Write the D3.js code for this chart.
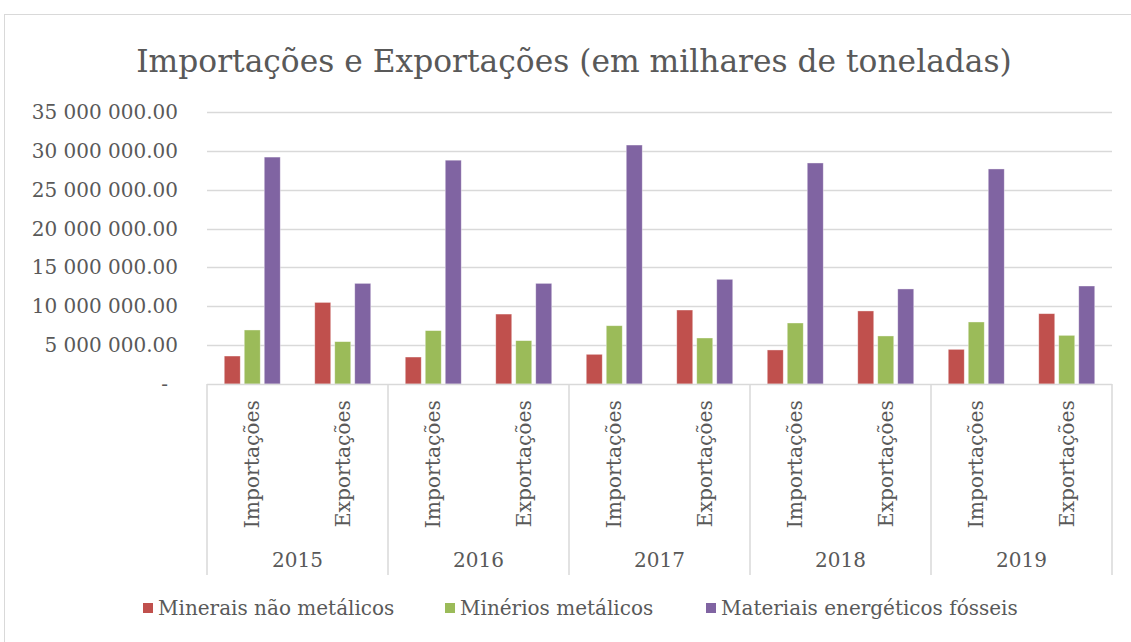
<!DOCTYPE html>
<html>
<head>
<meta charset="utf-8">
<script src="https://cdn.jsdelivr.net/npm/d3@7"></script>
<style>
  body { margin: 0; background: #fff; }
  svg text { font-family: "DejaVu Serif", "Liberation Serif", serif; fill: #595959; }
</style>
</head>
<body>
<div id="vis"></div>
<script>
// data
const years = ["2015", "2016", "2017", "2018", "2019"]
const flows = ["Importações", "Exportações"]
const series = ["Minerais não metálicos", "Minérios metálicos", "Materiais energéticos fósseis"]
const colors = ["#C0504D", "#9BBB59", "#8064A2"]

// one row per year+flow, order: 2015 imp, 2015 exp, 2016 imp, ...
const minerais = [3600000, 10500000, 3470000, 9000000, 3820000, 9520000, 4380000, 9400000, 4460000, 9050000]
const minerios = [6950000, 5450000, 6870000, 5580000, 7500000, 5920000, 7850000, 6180000, 7980000, 6260000]
const fosseis  = [29200000, 12950000, 28800000, 12950000, 30750000, 13470000, 28440000, 12230000, 27670000, 12610000]
const yTicks = [0, 5e6, 10e6, 15e6, 20e6, 25e6, 30e6, 35e6]

const cats = []
years.forEach(y => flows.forEach(f => cats.push({year: y, flow: f, key: y + "-" + f})))
cats.forEach((c, i) => c.values = [minerais[i], minerios[i], fosseis[i]])

const width = 1131, height = 642
const plot = {left: 207, right: 1112, top: 112, bottom: 384}

let svg = d3.select("#vis").append("svg")
    .attr("width", width)
    .attr("height", height)

// chart border
svg.append("rect")
    .attr("x", 4.5).attr("y", 14.5)
    .attr("width", 1140).attr("height", 660)
    .attr("fill", "none")
    .attr("stroke", "#d9d9d9")

svg.append("text")
    .attr("x", 574)
    .attr("y", 72)
    .attr("text-anchor", "middle")
    .attr("font-size", 31.3)
    .text("Importações e Exportações (em milhares de toneladas)")

let y = d3.scaleLinear().domain([0, 35e6]).range([plot.bottom, plot.top])
let x0 = d3.scaleBand().domain(cats.map(c => c.key)).range([plot.left, plot.right])
let x1 = d3.scaleBand().domain(d3.range(3)).range([0, x0.bandwidth()])
    .paddingInner(0.2).paddingOuter(0.8625)
let xYear = d3.scaleBand().domain(years).range([plot.left, plot.right])

const loc = d3.formatLocale({decimal: ".", thousands: " ", grouping: [3], currency: ["", ""]})
const fmt = loc.format(",.2f")

// grid
svg.append("g")
    .selectAll("line")
    .data(yTicks.slice(1))
    .join("line")
    .attr("x1", plot.left).attr("x2", plot.right)
    .attr("y1", d => Math.round(y(d)) + 0.5).attr("y2", d => Math.round(y(d)) + 0.5)
    .attr("stroke", "#d9d9d9")
    .attr("stroke-width", 1.5)

// y labels
svg.append("g")
    .attr("font-size", 20)
    .selectAll("text")
    .data(yTicks)
    .join("text")
    .attr("x", d => d == 0 ? 168 : 178)
    .attr("y", d => y(d))
    .attr("dy", "0.35em")
    .attr("text-anchor", "end")
    .text(d => d == 0 ? "-" : fmt(d))

// bars
let groups = svg.append("g")
    .selectAll("g")
    .data(cats)
    .join("g")
    .attr("transform", d => `translate(${x0(d.key)},0)`)

groups.selectAll("rect")
    .data(d => d.values)
    .join("rect")
    .attr("x", (d, i) => x1(i))
    .attr("width", x1.bandwidth())
    .attr("y", d => y(d))
    .attr("height", d => y(0) - y(d))
    .attr("fill", (d, i) => colors[i])
    .attr("stroke", "#fff")
    .attr("stroke-opacity", 0.5)
    .attr("stroke-width", 0.75)

// x axis line + year separators
let axis = svg.append("g")
    .attr("stroke", "#d9d9d9")
    .attr("stroke-width", 1.5)
axis.append("line")
    .attr("x1", plot.left).attr("x2", plot.right)
    .attr("y1", plot.bottom + 0.5).attr("y2", plot.bottom + 0.5)
axis.selectAll(".sep")
    .data(years.concat(["end"]))
    .join("line")
    .attr("x1", (d, i) => plot.left + i * xYear.bandwidth())
    .attr("x2", (d, i) => plot.left + i * xYear.bandwidth())
    .attr("y1", plot.bottom)
    .attr("y2", 575)

// flow labels (rotated)
svg.append("g")
    .attr("font-size", 20.3)
    .selectAll("text")
    .data(cats)
    .join("text")
    .attr("transform", d => `translate(${x0(d.key) + x0.bandwidth() / 2 + 7},400) rotate(-90)`)
    .attr("text-anchor", "end")
    .text(d => d.flow)

// year labels
svg.append("g")
    .attr("font-size", 20)
    .selectAll("text")
    .data(years)
    .join("text")
    .attr("x", d => xYear(d) + xYear.bandwidth() / 2)
    .attr("y", 567)
    .attr("text-anchor", "middle")
    .text(d => d)

// legend
const legendX = [143, 445, 706]
let leg = svg.append("g")
    .selectAll("g")
    .data(series)
    .join("g")
    .attr("transform", (d, i) => `translate(${legendX[i]},603)`)
leg.append("rect")
    .attr("width", 10).attr("height", 10)
    .attr("fill", (d, i) => colors[i])
leg.append("text")
    .attr("x", 15)
    .attr("y", 5)
    .attr("dy", "0.35em")
    .attr("font-size", 20)
    .text(d => d)
</script>
</body>
</html>
